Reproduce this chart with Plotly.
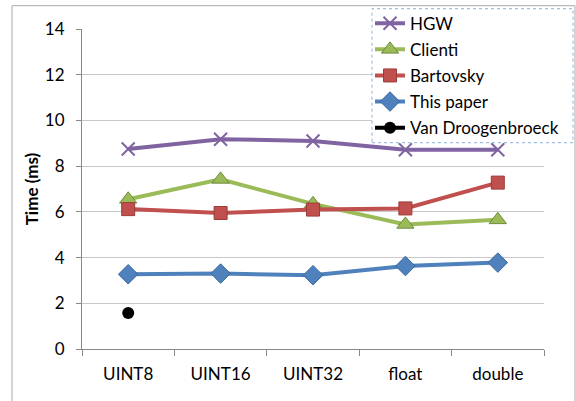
import plotly.graph_objects as go

categories = ["UINT8", "UINT16", "UINT32", "float", "double"]
hgw = [8.75, 9.18, 9.1, 8.72, 8.72]
clienti = [6.55, 7.42, 6.35, 5.45, 5.65]
bartovsky = [6.12, 5.95, 6.1, 6.15, 7.28]
this_paper = [3.27, 3.3, 3.23, 3.63, 3.78]
van_droogenbroeck = [1.57, None, None, None, None]
y_ticks = [0, 2, 4, 6, 8, 10, 12, 14]

series = [
    ("HGW", hgw, "#8064A2", dict(symbol="x-thin", size=13, line=dict(color="#8064A2", width=2))),
    ("Clienti", clienti, "#9BBB59", dict(symbol="triangle-up", size=15, line=dict(color="#6E8B3D", width=1))),
    ("Bartovsky", bartovsky, "#C0504D", dict(symbol="square", size=13, line=dict(color="#9E3A38", width=1))),
    ("This paper", this_paper, "#4F81BD", dict(symbol="diamond", size=15, line=dict(color="#3A679C", width=1))),
    ("Van Droogenbroeck", van_droogenbroeck, "#000000", dict(symbol="circle", size=12, line=dict(color="#000000", width=0))),
]

fig = go.Figure()
for i, (name, vals, color, marker) in enumerate(series):
    fig.add_trace(go.Scatter(
        x=categories, y=vals, name=name, mode="lines+markers",
        line=dict(color=color, width=4),
        marker=dict(color=color, **marker),
        legendgroup=f"g{i}",
    ))

font = "Lato, 'Open Sans', sans-serif"
W, H = 462, 320
L, T = 82, 29.3


def px(x):
    return (x - L) / W


def py(y):
    return 1 + (T - y) / H


fig.update_layout(
    width=576, height=401,
    margin=dict(l=82, r=32, t=29, b=52, autoexpand=False),
    paper_bgcolor="white", plot_bgcolor="white",
    font=dict(family=font, size=17, color="#000"),
    showlegend=True,
    legend=dict(
        x=px(370), y=py(6), xanchor="left", yanchor="top",
        bgcolor="rgba(0,0,0,0)", borderwidth=0,
        font=dict(family=font, size=17, color="#000"),
        tracegroupgap=1, itemwidth=30,
    ),
    xaxis=dict(
        type="category", showgrid=False, showline=True, linecolor="#888", linewidth=1,
        ticks="outside", tickson="boundaries", ticklen=6, tickcolor="#888",
        tickfont=dict(size=17), ticklabelstandoff=10, range=[-0.5, 4.5],
    ),
    yaxis=dict(
        range=[0, 14], tickvals=y_ticks, showgrid=True, gridcolor="#C8C8C8", gridwidth=1,
        showline=True, linecolor="#888", linewidth=1, ticks="outside", ticklen=5, tickcolor="#888",
        tickfont=dict(size=17), ticklabelstandoff=8, zeroline=False,
        title=dict(text="<b>Time (ms)</b>", font=dict(size=17), standoff=1),
    ),
    shapes=[
        dict(
            type="rect", xref="paper", yref="paper",
            x0=px(12), x1=px(575), y0=-0.2, y1=py(6),
            line=dict(color="#AAAAAA", width=1), fillcolor="rgba(0,0,0,0)", layer="below",
        ),
        dict(
            type="rect", xref="paper", yref="paper",
            x0=px(372), x1=px(573), y0=py(143), y1=py(9),
            line=dict(color="#8FB0DA", width=1, dash="dot"), fillcolor="white", layer="above",
        ),
    ],
)

fig.write_html("out.html")
